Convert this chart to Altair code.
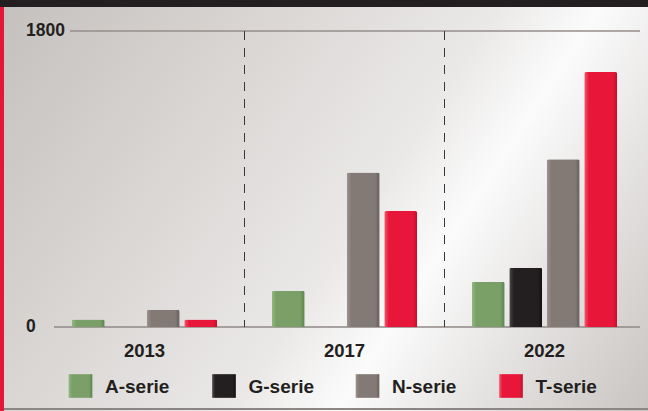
import altair as alt
import pandas as pd

# ---- data ----
years = ["2013", "2017", "2022"]
series = ["A-serie", "G-serie", "N-serie", "T-serie"]
a_vals = [45, 220, 275]
g_vals = [None, None, 360]
n_vals = [105, 940, 1020]
t_vals = [45, 705, 1550]
y_ticks = [0, 1800]
separators = ["2017", "2022"]

vals = {"A-serie": a_vals, "G-serie": g_vals, "N-serie": n_vals, "T-serie": t_vals}
rows = []
for s in series:
    for yr, v in zip(years, vals[s]):
        if v is not None:
            rows.append({"year": yr, "series": s, "value": v})
df = pd.DataFrame(rows)

# ---- styles ----
shades = {
    "A-serie": ("#93b983", "#7aa068", "#5c8250"),
    "G-serie": ("#4d4849", "#231f20", "#121011"),
    "N-serie": ("#9d9490", "#837a76", "#665e5b"),
    "T-serie": ("#f25a6e", "#e8173a", "#c20e2b"),
}


def grad(s):
    lo, mid, hi = shades[s]
    return {
        "gradient": "linear", "x1": 0, "y1": 0, "x2": 1, "y2": 0,
        "stops": [
            {"offset": 0, "color": lo},
            {"offset": 0.14, "color": mid},
            {"offset": 0.86, "color": mid},
            {"offset": 1, "color": hi},
        ],
    }


W, H = 648, 411
FONT = "Liberation Sans"
TXT = "#231f20"

xscale = alt.Scale(domain=years, range=[44.5, 644.5], paddingInner=0, paddingOuter=0)
offscale = alt.Scale(domain=series, paddingInner=0.12, paddingOuter=0.727)
yscale = alt.Scale(domain=[0, 1800], range=[327, 31], nice=False, zero=True)
legscale = alt.Scale(type="point", domain=series, range=[80.5, 511], padding=0)

one = alt.Data(values=[{}])

bg = alt.Chart(one).mark_rect(
    color={
        "gradient": "linear", "x1": 0, "y1": 0, "x2": 1.207, "y2": 0.5,
        "stops": [
            {"offset": 0, "color": "#c4c0bd"},
            {"offset": 0.3, "color": "#d9d6d4"},
            {"offset": 0.55, "color": "#ebe9e8"},
            {"offset": 0.66, "color": "#fbfbfb"},
            {"offset": 0.8, "color": "#e6e4e3"},
            {"offset": 1, "color": "#c8c4c1"},
        ],
    }
).encode(x=alt.value(0), x2=alt.value(W), y=alt.value(0), y2=alt.value(H))

topbar = alt.Chart(one).mark_rect(color="#231f20").encode(
    x=alt.value(0), x2=alt.value(W), y=alt.value(0), y2=alt.value(7))
redbar = alt.Chart(one).mark_rect(color="#e2173a").encode(
    x=alt.value(0), x2=alt.value(4), y=alt.value(7), y2=alt.value(H))
bottomline = alt.Chart(one).mark_rule(color="#8b8583", strokeWidth=2).encode(
    x=alt.value(4), x2=alt.value(W), y=alt.value(409))

grid_top = alt.Chart(one).mark_rule(color="#958e8b", strokeWidth=1.5).encode(
    x=alt.value(70), x2=alt.value(640), y=alt.YDatum(1800, scale=yscale, axis=None))
grid_base = alt.Chart(one).mark_rule(color="#8f8986", strokeWidth=1.5).encode(
    x=alt.value(54), x2=alt.value(640), y=alt.YDatum(0, scale=yscale, axis=None))

sep = alt.Chart(pd.DataFrame({"year": separators})).mark_rule(
    color="#3b3738", strokeWidth=1, strokeDash=[9, 8]
).encode(
    x=alt.X("year:N", scale=xscale, axis=None, bandPosition=0),
    y=alt.YDatum(1800, scale=yscale, axis=None),
    y2=alt.datum(0),
)

bar_layers = []
leg_layers = []
legdf = pd.DataFrame({"series": series})
for s in series:
    bar_layers.append(
        alt.Chart(df).transform_filter(alt.datum.series == s).mark_bar(
            color=grad(s), cornerRadiusTopLeft=2, cornerRadiusTopRight=2
        ).encode(
            x=alt.X("year:N", scale=xscale, axis=None),
            xOffset=alt.XOffset("series:N", scale=offscale),
            y=alt.Y("value:Q", scale=yscale, axis=None),
        )
    )
    leg_layers.append(
        alt.Chart(legdf).transform_filter(alt.datum.series == s).mark_square(
            size=560, color=grad(s), opacity=1, filled=True
        ).encode(
            x=alt.X("series:N", scale=legscale, axis=None),
            y=alt.value(386),
        )
    )

leg_text = alt.Chart(legdf).mark_text(
    align="left", baseline="middle", dx=24.5, fontSize=19, fontWeight="bold",
    font=FONT, color=TXT
).encode(
    x=alt.X("series:N", scale=legscale, axis=None),
    y=alt.value(387),
    text="series:N",
)

year_text = alt.Chart(pd.DataFrame({"year": years})).mark_text(
    align="center", baseline="middle", fontSize=18.5, fontWeight="bold",
    font=FONT, color=TXT
).encode(
    x=alt.X("year:N", scale=xscale, axis=None),
    y=alt.value(351),
    text="year:N",
)

ytext = alt.Chart(pd.DataFrame({"v": y_ticks})).mark_text(
    align="left", baseline="middle", fontSize=17.5, fontWeight="bold",
    font=FONT, color=TXT
).encode(
    x=alt.value(26),
    y=alt.Y("v:Q", scale=yscale, axis=None),
    text=alt.Text("v:Q", format="d"),
)

chart = alt.layer(
    bg, topbar, bottomline, grid_top, grid_base, sep,
    *bar_layers, year_text, ytext, *leg_layers, leg_text, redbar
).resolve_scale(x="independent").properties(
    width=W, height=H, padding=0, autosize=alt.AutoSizeParams(type="none")
).configure_view(stroke=None)

chart.save("out.html", embed_options={"renderer": "svg", "actions": False})
